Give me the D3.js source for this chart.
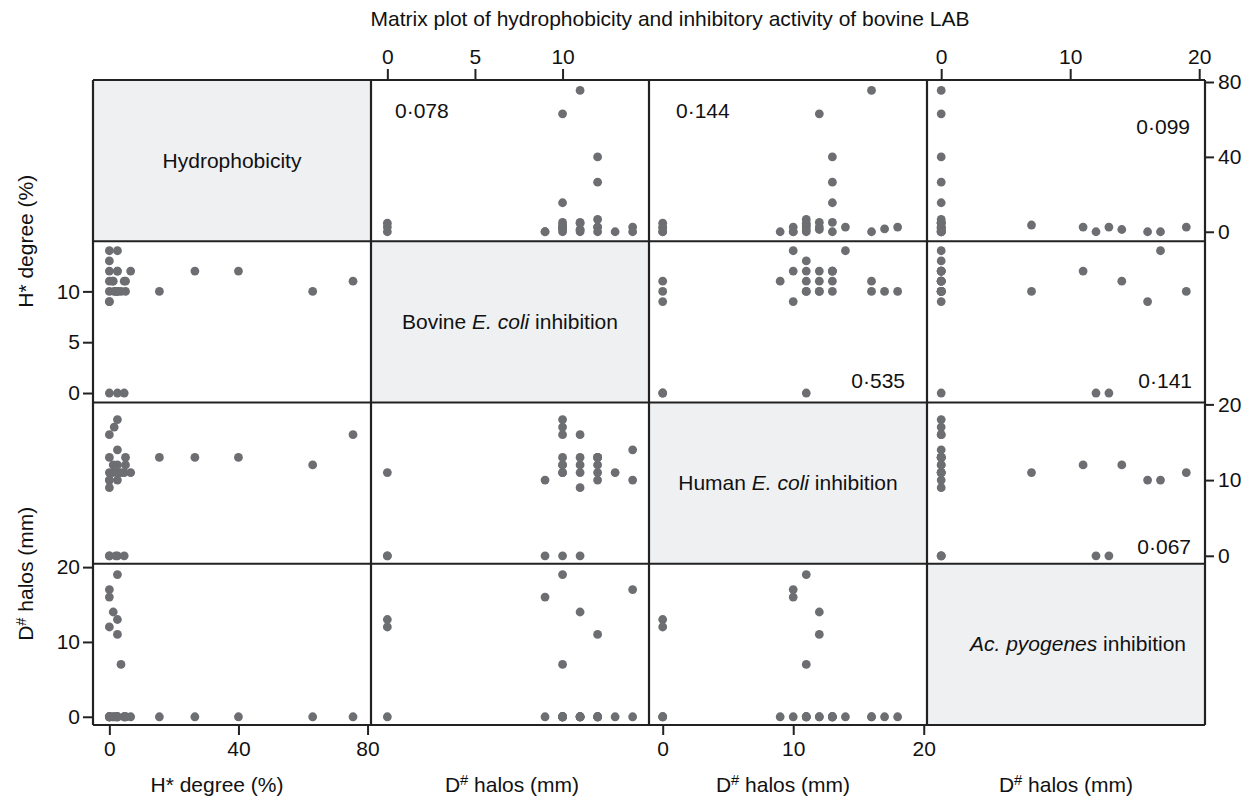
<!DOCTYPE html>
<html>
<head>
<meta charset="utf-8">
<script src="https://cdn.jsdelivr.net/npm/d3@7"></script>
<style>
  body { margin: 0; background: #fff; }
  text { font-family: "Liberation Sans", Arial, Helvetica, sans-serif; fill: #111; }
</style>
</head>
<body>
<svg id="chart" width="1258" height="804"></svg>
<script>
// one entry per LAB strain
const hydrophobicity = [2.5, 0, 0, 1.2, 2.5, 0, 2.5, 3.6, 75.5, 63, 40, 26.5, 15.5, 4.6, 0,
                        2, 4.6, 0, 1.5, 2.5, 0, 1, 5, 2.5, 0, 2.5, 6.6, 0, 5];
const bovineEcoli    = [10, 14, 9, 11, 0, 0, 12, 10, 11, 10, 12, 12, 10, 0, 9,
                        10, 11, 10, 10, 10, 11, 11, 11, 12, 13, 14, 12, 12, 10];
const humanEcoli     = [11, 10, 10, 12, 0, 0, 12, 11, 16, 12, 13, 13, 13, 11, 0,
                        0, 0, 16, 17, 18, 9, 11, 13, 10, 11, 14, 11, 13, 12];
const acPyogenes     = [19, 17, 16, 14, 13, 12, 11, 7, 0, 0, 0, 0, 0, 0, 0,
                        0, 0, 0, 0, 0, 0, 0, 0, 0, 0, 0, 0, 0, 0];

const columns    = [hydrophobicity, bovineEcoli, humanEcoli, acPyogenes];
const domains    = [[-5.07, 81.07], [-0.933, 14.933], [-1.05, 20.25], [-1.1, 20.45]];
const tickValues = [[0, 40, 80], [0, 5, 10], [0, 10, 20], [0, 10, 20]];
const axisTitles = ['H* degree (%)', 'D# halos (mm)', 'D# halos (mm)', 'D# halos (mm)'];

// correlation coefficients (row, col of the upper cells)
const corrRows   = [0, 0, 0, 1, 1, 2];
const corrCols   = [1, 2, 3, 2, 3, 3];
const corrValues = ['0·078', '0·144', '0·099', '0·535', '0·141', '0·067'];

const title = 'Matrix plot of hydrophobicity and inhibitory activity of bovine LAB';

// layout
const gLeft = 93, gTop = 80, gRight = 1205, gBottom = 725;
const n  = columns.length;
const cw = (gRight - gLeft) / n;
const ch = (gBottom - gTop) / n;
const ink = '#222';
const fs  = 21;

const svg = d3.select('#chart');

// scales per variable, x for columns and y for rows
const xScales = domains.map((d, i) => d3.scaleLinear().domain(d).range([gLeft + i * cw, gLeft + (i + 1) * cw]));
const yScales = domains.map((d, i) => d3.scaleLinear().domain(d).range([gTop + (i + 1) * ch, gTop + i * ch]));

// diagonal fills
svg.append('g')
  .selectAll('rect')
  .data(d3.range(n))
  .join('rect')
    .attr('x', (i) => gLeft + i * cw)
    .attr('y', (i) => gTop + i * ch)
    .attr('width', cw)
    .attr('height', ch)
    .attr('fill', '#eff0f2');

// scatter points
const cells = [];
for (let r = 0; r < n; r++) {
  for (let c = 0; c < n; c++) {
    if (r !== c) cells.push({ r, c });
  }
}

svg.append('g')
  .selectAll('g')
  .data(cells)
  .join('g')
  .each(function ({ r, c }) {
    d3.select(this)
      .selectAll('circle')
      .data(d3.range(hydrophobicity.length))
      .join('circle')
        .attr('cx', (k) => xScales[c](columns[c][k]))
        .attr('cy', (k) => yScales[r](columns[r][k]))
        .attr('r', 4.4)
        .attr('fill', '#6d6e71');
  });

// cell borders
const grid = svg.append('g').attr('stroke', ink).attr('stroke-width', 2.2);
d3.range(n + 1).forEach((i) => {
  grid.append('line')
    .attr('x1', gLeft + i * cw).attr('x2', gLeft + i * cw)
    .attr('y1', gTop).attr('y2', gBottom);
  grid.append('line')
    .attr('x1', gLeft).attr('x2', gRight)
    .attr('y1', gTop + i * ch).attr('y2', gTop + i * ch);
});

// diagonal labels (italic species names)
const diagX = [0, 0, 0, 12];
const diagParts = [
  [['Hydrophobicity', false]],
  [['Bovine ', false], ['E. coli', true], [' inhibition', false]],
  [['Human ', false], ['E. coli', true], [' inhibition', false]],
  [['Ac. pyogenes', true], [' inhibition', false]]
];
diagParts.forEach((parts, i) => {
  const t = svg.append('text')
    .attr('x', gLeft + (i + 0.5) * cw + diagX[i])
    .attr('y', gTop + (i + 0.5) * ch + 7)
    .attr('text-anchor', 'middle')
    .attr('font-size', fs);
  parts.forEach(([s, it]) => {
    t.append('tspan').attr('font-style', it ? 'italic' : 'normal').text(s);
  });
});

// correlation labels
const corrPlace = [
  { anchor: 'start', dx: 24,  dy: 38 },
  { anchor: 'start', dx: 27,  dy: 38 },
  { anchor: 'end',   dx: -15, dy: 54 },
  { anchor: 'end',   dx: -22, dy: -15 },
  { anchor: 'end',   dx: -13, dy: -15 },
  { anchor: 'end',   dx: -14, dy: -10 }
];
corrValues.forEach((v, i) => {
  const r = corrRows[i], c = corrCols[i], p = corrPlace[i];
  const x0 = p.anchor === 'start' ? gLeft + c * cw : gLeft + (c + 1) * cw;
  const y0 = p.dy > 0 ? gTop + r * ch : gTop + (r + 1) * ch;
  svg.append('text')
    .attr('x', x0 + p.dx)
    .attr('y', y0 + p.dy)
    .attr('text-anchor', p.anchor)
    .attr('font-size', fs)
    .text(v);
});

// alternating axes, as in a Minitab matrix plot
function styleAxis(g) {
  g.select('.domain').remove();
  g.selectAll('.tick line').attr('stroke', ink).attr('stroke-width', 2);
  g.selectAll('.tick text')
    .attr('fill', '#111')
    .attr('font-size', fs)
    .attr('font-family', '"Liberation Sans", Arial, Helvetica, sans-serif');
}

// top: columns 1 and 3
[1, 3].forEach((c) => {
  svg.append('g')
    .attr('transform', `translate(0,${gTop})`)
    .call(d3.axisTop(xScales[c]).tickValues(tickValues[c]).tickSize(11).tickPadding(5))
    .call(styleAxis);
});
// bottom: columns 0 and 2
[0, 2].forEach((c) => {
  svg.append('g')
    .attr('transform', `translate(0,${gBottom})`)
    .call(d3.axisBottom(xScales[c]).tickValues(tickValues[c]).tickSize(10).tickPadding(6))
    .call(styleAxis);
});
// left: rows 1 and 3
[1, 3].forEach((r) => {
  svg.append('g')
    .attr('transform', `translate(${gLeft},0)`)
    .call(d3.axisLeft(yScales[r]).tickValues(tickValues[r]).tickSize(10).tickPadding(3))
    .call(styleAxis);
});
// right: rows 0 and 2
[0, 2].forEach((r) => {
  svg.append('g')
    .attr('transform', `translate(${gRight},0)`)
    .call(d3.axisRight(yScales[r]).tickValues(tickValues[r]).tickSize(9).tickPadding(4))
    .call(styleAxis);
});

// axis titles, with superscript for D#
function axisTitle(sel, s) {
  if (s.startsWith('D#')) {
    sel.append('tspan').text('D');
    sel.append('tspan').attr('font-size', fs * 0.7).attr('baseline-shift', '45%').text('#');
    sel.append('tspan').text(s.slice(2));
  } else {
    sel.text(s);
  }
}

const bottomTitleX = [217, 512, 783, 1066];
axisTitles.forEach((s, i) => {
  svg.append('text')
    .attr('x', bottomTitleX[i])
    .attr('y', 792)
    .attr('text-anchor', 'middle')
    .attr('font-size', fs)
    .call(axisTitle, s);
});

// left titles, placed at the row boundaries
[[axisTitles[0], gTop + ch], [axisTitles[3], gTop + 3 * ch + 10]].forEach(([s, y]) => {
  svg.append('text')
    .attr('transform', `translate(33,${y}) rotate(-90)`)
    .attr('text-anchor', 'middle')
    .attr('font-size', fs)
    .call(axisTitle, s);
});

// chart title
svg.append('text')
  .attr('x', 670)
  .attr('y', 26)
  .attr('text-anchor', 'middle')
  .attr('font-size', fs)
  .text(title);
</script>
</body>
</html>
